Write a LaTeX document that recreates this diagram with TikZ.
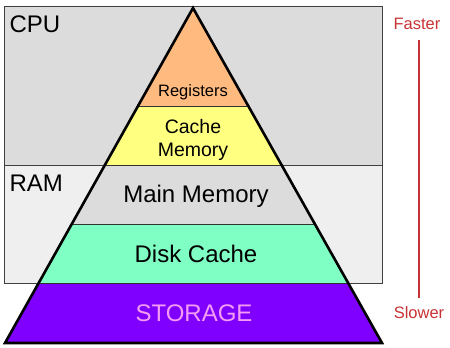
\documentclass[tikz,border=0pt]{standalone}
\usepackage{fontspec}
\setmainfont{Liberation Sans}
\definecolor{cpugray}{HTML}{DCDCDC}
\definecolor{ramgray}{HTML}{EFEFEF}
\definecolor{regcol}{HTML}{FFBA80}
\definecolor{cachecol}{HTML}{FFFF80}
\definecolor{maincol}{HTML}{DCDCDC}
\definecolor{diskcol}{HTML}{80FFC4}
\definecolor{storecol}{HTML}{8000FF}
\definecolor{storetext}{HTML}{F49CF4}
\definecolor{speedred}{HTML}{C83234}
\tikzset{
  box/.style={draw=black!75,line width=0.8pt},
  big/.style={font=\fontsize{24}{27}\selectfont},
  mid/.style={font=\fontsize{19.5}{23}\selectfont,align=center},
  small/.style={font=\fontsize{16.5}{19}\selectfont}
}

\begin{document}
\begin{tikzpicture}[x=1pt,y=-1pt]
    \useasboundingbox (0,0) rectangle (450,348);
    \fill [white] (0,0) rectangle (450,348);
    % CPU and RAM areas
    \draw [box,fill=cpugray] (4,6) rectangle (382,165);
    \draw [box,fill=ramgray] (4,165) rectangle (382,283);
    \path coordinate (top) at (193,8);
    \path coordinate (bl) at (5,343);
    \path coordinate (br) at (382,343);
    % layers of the pyramid
    \begin{scope}
        \clip (top)--(bl)--(br)--cycle;
        \fill [regcol] (0,0) rectangle (450,106);
        \fill [cachecol] (0,106) rectangle (450,165);
        \fill [maincol] (0,165) rectangle (450,224);
        \fill [diskcol] (0,224) rectangle (450,283);
        \fill [storecol] (0,283) rectangle (450,348);
        \draw [line width=0.8pt,black!80] (0,106)--(450,106) (0,165)--(450,165)
            (0,224)--(450,224) (0,283)--(450,283);
    \end{scope}
    \draw [line width=2.6pt,line join=miter] (top)--(bl)--(br)--cycle;
    % labels
    \node [big,anchor=west] (cpu) at (6,24) {CPU};
    \node [big,anchor=west] (ram) at (6,183) {RAM};
    \node [small] (reg) at (193,92) {Registers};
    \node [mid] (cache) at (193,140) {Cache\\Memory};
    \node [big] (main) at (196,196) {Main Memory};
    \node [big] (disk) at (196,254) {Disk Cache};
    \node [big,text=storetext] (store) at (194,313) {STORAGE};
    % speed scale
    \node [small,text=speedred] (fast) at (417,24) {Faster};
    \node [small,text=speedred] (slow) at (419,313) {Slower};
    \draw [speedred,line width=1.2pt] (419,40)--(419,298);
\end{tikzpicture}
\end{document}
